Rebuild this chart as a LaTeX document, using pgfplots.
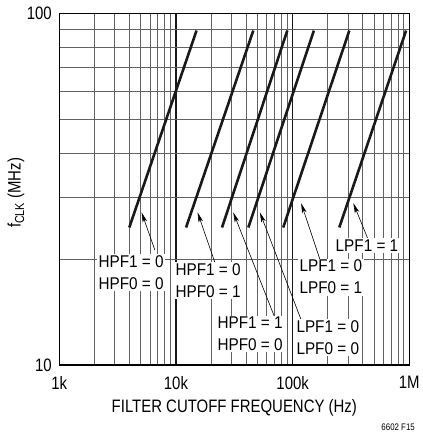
\documentclass[border=0pt]{standalone}
\usepackage{fontspec}
\setmainfont{Liberation Sans}
\newfontfamily\cond[FakeStretch=0.83]{Liberation Sans}
\newfontfamily\semicond[FakeStretch=0.9]{Liberation Sans}
\usepackage{pgfplots}
\pgfplotsset{compat=1.18}
\usetikzlibrary{arrows.meta}
\tikzset{
 lab/.style={fill=white, align=left, inner sep=1.5bp, font=\semicond\fontsize{17bp}{22bp}\selectfont},
 arr/.style={line width=0.6bp, -{Stealth[length=10bp,width=4.5bp,inset=2.5bp]}},
}
\begin{document}
\begin{tikzpicture}[x=1bp,y=1bp]
\useasboundingbox (0,0) rectangle (422,435);
\begin{axis}[
 at={(59.3bp,70bp)}, anchor=south west,
 scale only axis, width=350bp, height=351.7bp,
 xmode=log, ymode=log,
 xmin=1000, xmax=1000000, ymin=10, ymax=100,
 xtick={1000,10000,100000,1000000},
 xticklabels={\mbox{1k},\mbox{10k},\mbox{100k},\mbox{1M}},
 ytick={10,100}, yticklabels={\mbox{10},\mbox{100}},
 grid=both,
 major grid style={line width=1.1bp, draw=black!90},
 minor grid style={line width=1bp, draw=black!62},
 major tick length=0pt, minor tick length=0pt,
 axis line style={line width=1.3bp},
 ticklabel style={font=\cond\fontsize{18bp}{20bp}\selectfont},
 xticklabel style={yshift=-8bp},
 yticklabel style={xshift=-4bp},
]
\addplot[line width=2.6bp, black!90] coordinates {(3980,24.6) (15000,89.3)};
\addplot[line width=2.6bp, black!90] coordinates {(12200,24.6) (46000,89.3)};
\addplot[line width=2.6bp, black!90] coordinates {(24800,24.6) (90000,89.3)};
\addplot[line width=2.6bp, black!90] coordinates {(41700,24.6) (152000,89.3)};
\addplot[line width=2.6bp, black!90] coordinates {(83000,24.6) (306000,89.3)};
\addplot[line width=2.6bp, black!90] coordinates {(251000,24.6) (938000,89.3)};

\draw[arr] (rel axis cs:0.273,0.327) -- (rel axis cs:0.235,0.434);
\draw[arr] (rel axis cs:0.445,0.290) -- (rel axis cs:0.395,0.434);
\draw[arr] (rel axis cs:0.616,0.134) -- (rel axis cs:0.497,0.434);
\draw[arr] (rel axis cs:0.693,0.123) -- (rel axis cs:0.573,0.434);
\draw[arr] (rel axis cs:0.748,0.290) -- (rel axis cs:0.691,0.460);
\draw[arr] (rel axis cs:0.881,0.360) -- (rel axis cs:0.840,0.460);

\node[lab] at (rel axis cs:0.205,0.262) {HPF1 = 0\\HPF0 = 0};
\node[lab] at (rel axis cs:0.425,0.239) {HPF1 = 0\\HPF0 = 1};
\node[lab] at (rel axis cs:0.545,0.088) {HPF1 = 1\\HPF0 = 0};
\node[lab] at (rel axis cs:0.767,0.077) {LPF1 = 0\\LPF0 = 0};
\node[lab] at (rel axis cs:0.776,0.250) {LPF1 = 0\\LPF0 = 1};
\node[lab] at (rel axis cs:0.879,0.339) {LPF1 = 1};
\end{axis}
\node[font=\cond\fontsize{18bp}{20bp}\selectfont] at (234.3,27) {FILTER CUTOFF FREQUENCY (Hz)};
\node[rotate=90, font=\cond\fontsize{18bp}{20bp}\selectfont] at (16,242) {f\raisebox{-3.5bp}{\fontsize{13bp}{13bp}\selectfont CLK} (MHz)};
\node[anchor=east, inner sep=0pt, font=\cond\fontsize{9.5bp}{10bp}\selectfont] at (415,8) {6602 F15};
\end{tikzpicture}
\end{document}
